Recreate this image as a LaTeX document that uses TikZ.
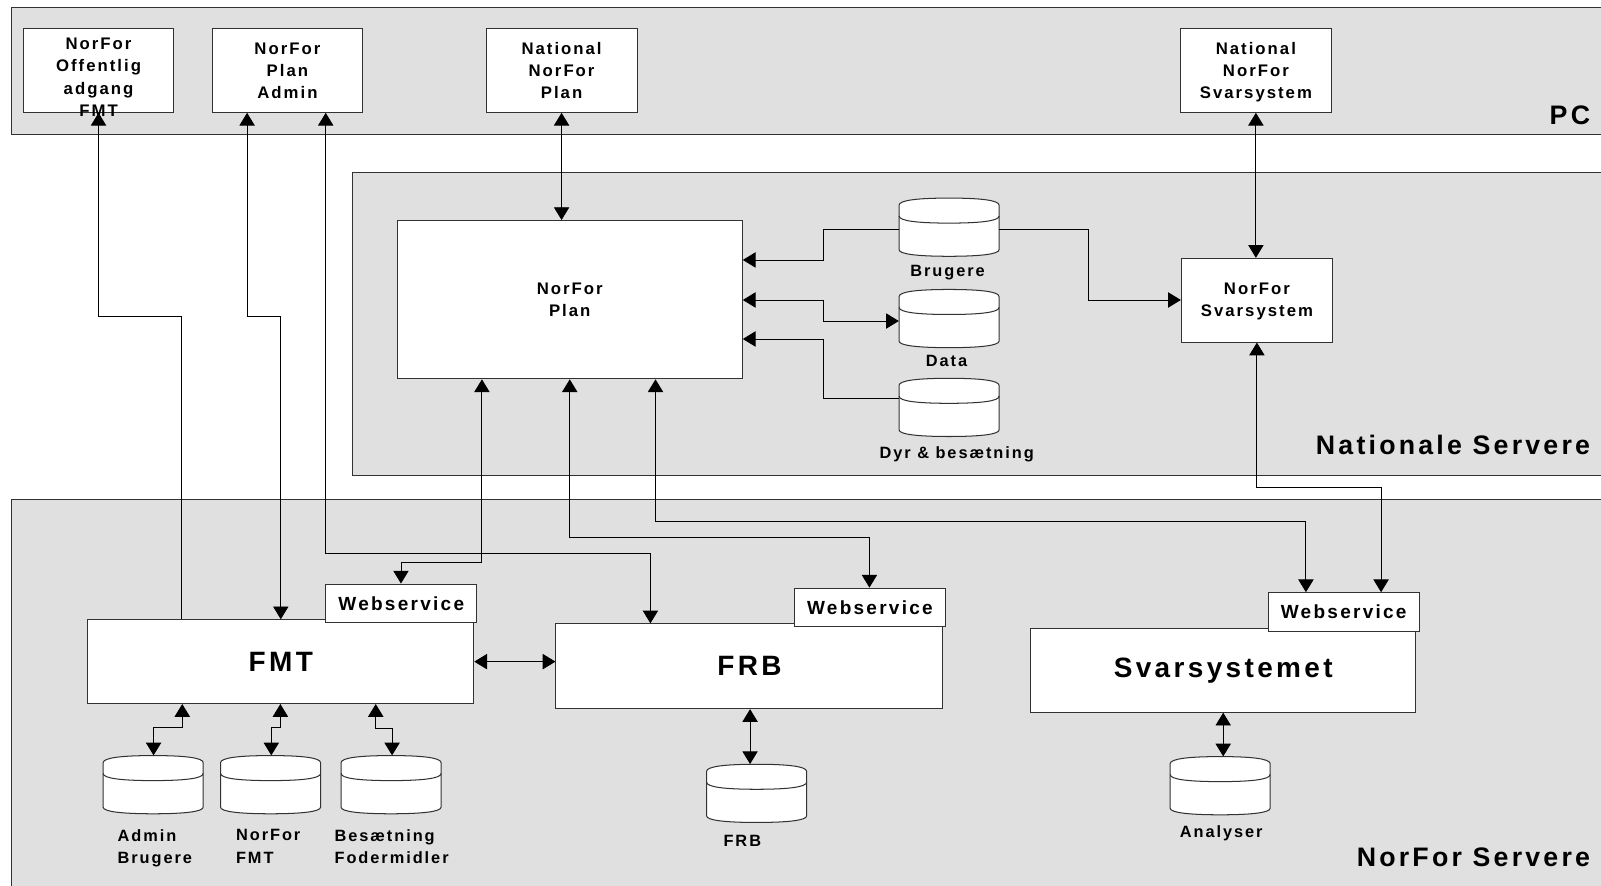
\documentclass[tikz,border=0pt]{standalone}
\usepackage{fontspec}
\setmainfont{Liberation Sans}[LetterSpace=12]
\usetikzlibrary{arrows.meta,calc}
\definecolor{band}{RGB}{224,224,224}
\definecolor{edge}{RGB}{50,50,50}
\tikzset{
 bandrect/.style={fill=band, draw=edge, line width=1pt},
 boxn/.style={draw=edge, fill=white, line width=1pt, inner sep=0pt, align=center, text depth=0pt, font=\bfseries\fontsize{16.4}{21.5}\selectfont},
 wsn/.style={draw=edge, fill=white, line width=1pt, minimum width=148pt, minimum height=38pt, inner sep=0pt, font=\bfseries\fontsize{18.6}{22}\selectfont},
 bign/.style={draw=edge, fill=white, line width=1pt, inner sep=0pt, font=\bfseries\fontsize{27.4}{32}\selectfont},
 regn/.style={anchor=base east, inner sep=0pt, font=\bfseries\fontsize{26.2}{30}\selectfont},
 lbln/.style={inner sep=0pt, font=\bfseries\fontsize{16}{22}\selectfont},
 cylbox/.style={minimum width=98pt, minimum height=57pt, inner sep=0pt},
 conn/.style={line width=0.9pt, black},
 >={Triangle[length=12.5pt,width=15pt]},
}
\newcommand\dbcyl[3]{%
 \node[cylbox] (#1) at (#2,#3) {};
 \begin{scope}[shift={(#2,#3)}]
 \path[fill=white, draw=edge, line width=1pt] (-49,-21.5) .. controls (-49,-26.5) and (-30,-28.5) .. (0,-28.5) .. controls (30,-28.5) and (49,-26.5) .. (49,-21.5) -- (49,22) .. controls (49,26.5) and (30,28.5) .. (0,28.5) .. controls (-30,28.5) and (-49,26.5) .. (-49,22) -- cycle;
 \draw[draw=edge, line width=1pt] (-49,-11) .. controls (-49,-6) and (-30,-4) .. (0,-4) .. controls (30,-4) and (49,-6) .. (49,-11);
 \end{scope}}
\begin{document}
\begin{tikzpicture}[x=1pt,y=-1pt]
\useasboundingbox (0,0) rectangle (1568,867);
\clip (0,0) rectangle (1568,867);
% bands
\path[bandrect] (11,7.5) rectangle (1600,131.5);
\path[bandrect] (345.5,169) rectangle (1600,466);
\path[bandrect] (11,489) rectangle (1600,900);
\node[regn] (pcl) at (1557.5,121.8) {PC};
\node[regn] (nsl) at (1557.5,445.6) {Nationale Servere};
\node[regn] (nfl) at (1557.5,848.8) {NorFor Servere};
% top boxes
\node[boxn, minimum width=147pt, minimum height=82pt] (b1) at (96.5,69) {};
\node[inner sep=0pt, align=center, text depth=0pt, font=\bfseries\fontsize{16.4}{22}\selectfont] (b1t) at (96.5,75.5) {NorFor\\Offentlig\\adgang\\FMT};
\node[boxn, minimum width=147pt, minimum height=82pt] (b2) at (281.5,69) {NorFor\\Plan\\Admin};
\node[boxn, minimum width=148pt, minimum height=82pt] (b3) at (550,69) {National\\NorFor\\Plan};
\node[boxn, minimum width=148pt, minimum height=82pt] (b4) at (1230,69) {National\\NorFor\\Svarsystem};
% national servers
\node[boxn, minimum width=338pt, minimum height=155pt] (plan) at (558,293.5) {NorFor\\Plan};
\node[boxn, minimum width=148pt, minimum height=82pt] (svsn) at (1231,294) {NorFor\\Svarsystem};
\dbcyl{bru}{929.5}{222.5}
\dbcyl{dat}{929.5}{312}
\dbcyl{dyr}{929.5}{399}
\node[lbln, anchor=base] (brul) at (928,271) {Brugere};
\node[lbln, anchor=base] (datl) at (927,359) {Data};
\node[lbln, anchor=base] (dyrl) at (937,449) {Dyr \& besætning};
% norfor servers
\node[bign, minimum width=378pt, minimum height=82pt] (fmt) at (275,648) {FMT};
\node[wsn] (ws1) at (393,591) {Webservice};
\node[bign, minimum width=379pt, minimum height=83pt] (frb) at (734,652.5) {FRB};
\node[wsn] (ws2) at (852,595) {Webservice};
\node[bign, minimum width=377pt, minimum height=82pt] (svs) at (1198,656.5) {Svarsystemet};
\node[wsn] (ws3) at (1316,599.5) {Webservice};
\dbcyl{cadm}{150}{768.5}
\dbcyl{cnf}{265}{768.5}
\dbcyl{cbes}{383}{768.5}
\dbcyl{cfrb}{741}{777}
\dbcyl{cana}{1195}{769.5}
\node[lbln, anchor=north west, align=left] (cadml) at (115,812) {Admin\\Brugere};
\node[lbln, anchor=north west, align=left] (cnfl) at (231,812) {NorFor\\FMT};
\node[lbln, anchor=north west, align=left] (cbesl) at (327.5,812) {Besætning\\Fodermidler};
\node[lbln, anchor=base] (cfrbl) at (727,829) {FRB};
\node[lbln, anchor=base] (canal) at (1196,820) {Analyser};
% connectors
\draw[conn,<-] (b1.south) -- (96.5,310) -- (178,310) -- (fmt.north -| 178,0);
\draw[conn,<->] (b2.south -| 242,0) -- (242,310) -- (275,310) -- (fmt.north -| 275,0);
\draw[conn,<->] (b2.south -| 319,0) -- (319,542.5) -- (637,542.5) -- (frb.north -| 637,0);
\draw[conn,<->] (b3.south) -- (plan.north -| b3.south);
\draw[conn,<->] (b4.south) -- (svsn.north -| b4.south);
\draw[conn,->] (bru.west |- 0,224.6) -- (806.5,224.6) -- (806.5,254.6) -- (plan.east |- 0,254.6);
\draw[conn,<->] (plan.east |- 0,293.8) -- (806.5,293.8) -- (806.5,314.4) -- (dat.west |- 0,314.4);
\draw[conn,->] (dyr.west |- 0,390) -- (806.5,390) -- (806.5,332) -- (plan.east |- 0,332);
\draw[conn,->] (bru.east |- 0,224.6) -- (1066,224.6) -- (1066,293.8) -- (svsn.west |- 0,293.8);
\draw[conn,<->] (svsn.south) -- (1231,477) -- (1352.6,477) -- (ws3.north -| 1352.6,0);
\draw[conn,<->] (plan.south -| 472,0) -- (472,551) -- (392.7,551) -- (ws1.north -| 392.7,0);
\draw[conn,<->] (plan.south -| 558,0) -- (558,526) -- (851.5,526) -- (ws2.north -| 851.5,0);
\draw[conn,<->] (plan.south -| 642,0) -- (642,511) -- (1279,511) -- (ws3.north -| 1279,0);
\draw[conn,<->] (fmt.east) -- (frb.west |- fmt.east);
\draw[conn,<->] (fmt.south -| 178.5,0) -- (178.5,712.4) -- (150.4,712.4) -- (cadm.north -| 150.4,0);
\draw[conn,<->] (fmt.south -| 274.6,0) -- (274.6,712.4) -- (265.7,712.4) -- (cnf.north -| 265.7,0);
\draw[conn,<->] (fmt.south -| 368,0) -- (368,713.4) -- (384,713.4) -- (cbes.north -| 384,0);
\draw[conn,<->] (frb.south -| 734.6,0) -- (cfrb.north -| 734.6,0);
\draw[conn,<->] (svs.south -| 1198,0) -- (cana.north -| 1198,0);
\end{tikzpicture}
\end{document}
